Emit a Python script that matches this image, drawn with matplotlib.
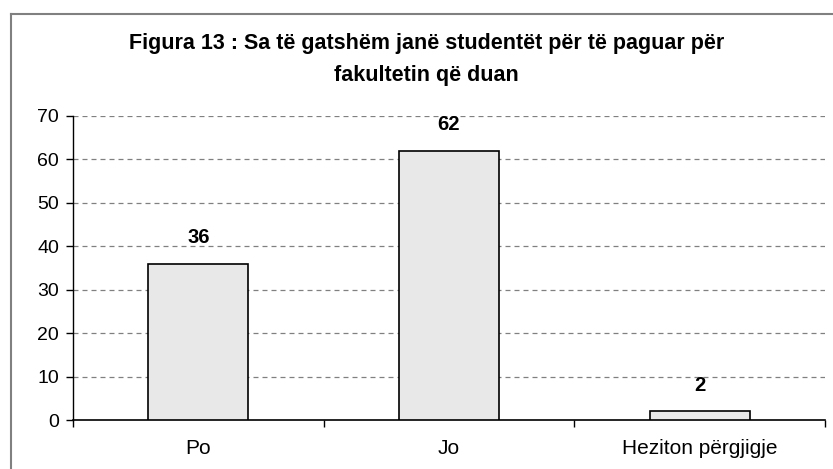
import matplotlib.pyplot as plt
from matplotlib.lines import Line2D

categories = ['Po', 'Jo', 'Heziton përgjigje']
values = [36, 62, 2]
yticks = [0, 10, 20, 30, 40, 50, 60, 70]

plt.rcParams['font.family'] = ['Liberation Sans', 'DejaVu Sans']

fig = plt.figure(figsize=(8.33, 4.69), dpi=100)
ax = fig.add_axes([73 / 833, 1 - 420 / 469, 752 / 833, 304 / 469])

x = list(range(len(categories)))
bars = ax.bar(x, values, width=0.4, color='#e8e8e8', edgecolor='black', linewidth=1.2, zorder=3)

for b, v in zip(bars, values):
    ax.annotate(str(v), (b.get_x() + b.get_width() / 2, v), xytext=(0, 12),
                textcoords='offset points', ha='center', va='bottom',
                fontsize=14.5, fontweight='bold')

ax.set_xlim(-0.5, len(categories) - 0.5)
ax.set_ylim(0, 70)
ax.set_yticks(yticks)
ax.set_yticklabels([str(t) for t in yticks], fontsize=14)
ax.set_xticks(x)
ax.set_xticklabels(categories, fontsize=15)
ax.set_xticks([i - 0.5 for i in range(len(categories) + 1)], minor=True)
ax.tick_params(axis='x', which='major', length=0, pad=14)
ax.tick_params(axis='x', which='minor', length=5, width=1, direction='out')
ax.tick_params(axis='y', length=5, width=1, direction='out', pad=5)

for t in yticks[1:]:
    ax.axhline(t, color='#808080', linewidth=0.9, dashes=(4, 3.2), zorder=1)

for s in ['top', 'right']:
    ax.spines[s].set_visible(False)
ax.spines['left'].set_linewidth(1)
ax.spines['bottom'].set_linewidth(1.2)

fig.text(0.512, 1 - 44 / 469, 'Figura 13 : Sa të gatshëm janë studentët për të paguar për',
         ha='center', va='center', fontsize=15.5, fontweight='bold')
fig.text(0.512, 1 - 76 / 469, 'fakultetin që duan',
         ha='center', va='center', fontsize=15.5, fontweight='bold')

# outer frame (left and top edges visible)
fig.add_artist(Line2D([10.5 / 833, 10.5 / 833], [0, 1 - 14 / 469], transform=fig.transFigure,
                      color='#808080', linewidth=1.5))
fig.add_artist(Line2D([10.5 / 833, 1], [1 - 14 / 469, 1 - 14 / 469], transform=fig.transFigure,
                      color='#808080', linewidth=1.5))

plt.savefig('out.png', dpi=100)
plt.close()
